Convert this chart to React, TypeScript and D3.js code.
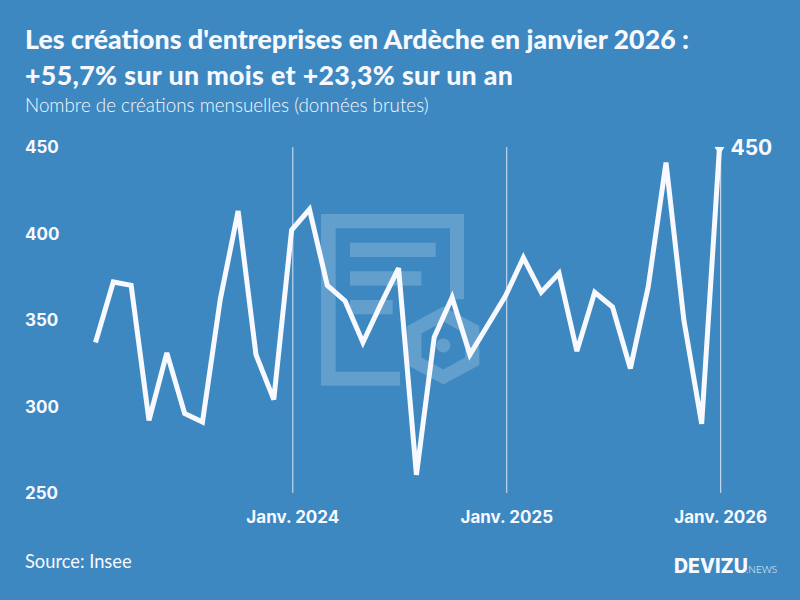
import React from "react";
import * as d3 from "d3";

const months: string[] = [
  "2023-02","2023-03","2023-04","2023-05","2023-06","2023-07","2023-08","2023-09","2023-10","2023-11","2023-12",
  "2024-01","2024-02","2024-03","2024-04","2024-05","2024-06","2024-07","2024-08","2024-09","2024-10","2024-11","2024-12",
  "2025-01","2025-02","2025-03","2025-04","2025-05","2025-06","2025-07","2025-08","2025-09","2025-10","2025-11","2025-12",
  "2026-01",
];
const creations: number[] = [
  337,372,370,292,331,296,291,362,413,330,304,
  402,414,370,361,337,359,380,260.5,340,363,330,347,
  364,386,366,377,332,366,357.5,322,369,441,350,290,
  450,
];
const yTicks: number[] = [250, 300, 350, 400, 450];
const xTicks: { month: string; label: string }[] = [
  { month: "2024-01", label: "Janv. 2024" },
  { month: "2025-01", label: "Janv. 2025" },
  { month: "2026-01", label: "Janv. 2026" },
];
const titleLines: string[] = [
  "Les créations d'entreprises en Ardèche en janvier 2026 :",
  "+55,7% sur un mois et +23,3% sur un an",
];
const subtitle = "Nombre de créations mensuelles (données brutes)";
const source = "Source: Insee";

const BG = "#3d88c0";
const FG = "#f8f8ff";
const TITLE_FONT = "Lato, 'Open Sans', sans-serif";
const AXIS_FONT = "Inter, Roboto, sans-serif";
const TITLE_WIDTHS = [664, 488];

function hexPath(cx: number, cy: number, r: number, k: number): string {
  const pts = d3.range(6).map((i) => {
    const a = (Math.PI / 3) * i - Math.PI / 2;
    return [cx + r * k * Math.cos(a), cy + r * Math.sin(a)];
  });
  return "M" + pts.map((p) => p.join(",")).join("L") + "Z";
}

export default function App() {
  const x = d3
    .scaleLinear()
    .domain([0, months.length - 1])
    .range([95.5, 719.5]);
  const y = d3.scaleLinear().domain([250, 450]).range([493, 147]);
  const line = d3
    .line<number>()
    .x((_, i) => x(i))
    .y((d) => y(d))
    .curve(d3.curveLinear);

  const last = creations.length - 1;
  const xLast = x(last);
  const yLast = y(creations[last]);

  return (
    <svg
      width={800}
      height={600}
      viewBox="0 0 800 600"
      style={{ position: "fixed", left: 0, top: 0, display: "block", background: BG }}
    >
      <rect x={0} y={0} width={800} height={600} fill={BG} />

      <g fill="#ffffff" fillOpacity={0.2}>
        <path
          fillRule="evenodd"
          d="M321,214H464V299.3H450V228.3H335.7V371.7H400V385.7H321Z"
        />
        <rect x={350} y={242.7} width={85.7} height={14.3} />
        <rect x={350} y={271.3} width={71.3} height={14.3} />
        <rect x={350} y={300} width={42.7} height={14.3} />
        <path
          fillRule="evenodd"
          d={hexPath(443.3, 345.5, 39, 1.066) + hexPath(443.3, 345.5, 24, 1.05)}
        />
        <circle cx={443.3} cy={345.5} r={7} />
      </g>

      <g>
        {titleLines.map((t, i) => (
          <text
            key={t}
            x={25}
            y={49 + i * 35.5}
            fill={FG}
            fontFamily={TITLE_FONT}
            fontWeight={900}
            fontSize={26.7}
            textLength={TITLE_WIDTHS[i]}
            lengthAdjust="spacing"
          >
            {t}
          </text>
        ))}
        <text x={25} y={112} fill={FG} fontFamily={TITLE_FONT} fontWeight={300} fontSize={18.8}>
          {subtitle}
        </text>
      </g>

      <g>
        {yTicks.map((t) => (
          <text
            key={t}
            x={25}
            y={y(t) + 6}
            fill={FG}
            fontFamily={AXIS_FONT}
            fontWeight={700}
            fontSize={17}
          >
            {t}
          </text>
        ))}
      </g>

      <g>
        {xTicks.map((t) => {
          const px = x(months.indexOf(t.month));
          return (
            <g key={t.month}>
              <line
                x1={px + 1.2}
                x2={px + 1.2}
                y1={y(450)}
                y2={y(250)}
                stroke={FG}
                strokeOpacity={0.85}
                strokeWidth={1}
              />
              <text
                x={px + 1.2}
                y={523}
                textAnchor="middle"
                fill={FG}
                fontFamily={AXIS_FONT}
                fontWeight={700}
                fontSize={17}
              >
                {t.label}
              </text>
            </g>
          );
        })}
      </g>

      <path
        d={line(creations) ?? ""}
        fill="none"
        stroke={FG}
        strokeWidth={5}
        strokeLinejoin="miter"
        strokeMiterlimit={3}
      />
      <path
        d={`M${xLast - 5},${yLast}H${xLast + 5}L${xLast},${yLast + 8}Z`}
        fill={FG}
      />
      <text
        x={730.5}
        y={yLast + 7.5}
        fill={FG}
        fontFamily={AXIS_FONT}
        fontWeight={700}
        fontSize={21}
      >
        {creations[last]}
      </text>

      <text x={25} y={568} fill={FG} fontFamily={TITLE_FONT} fontWeight={400} fontSize={18.3}>
        {source}
      </text>
      <text x={674} y={572.5} fill={FG} fontFamily={AXIS_FONT} fontWeight={800} fontSize={19.5}>
        DEVIZU
      </text>
      <text x={746} y={572.5} fill={FG} fontFamily={TITLE_FONT} fontWeight={300} fontSize={10}>
        .NEWS
      </text>
    </svg>
  );
}
